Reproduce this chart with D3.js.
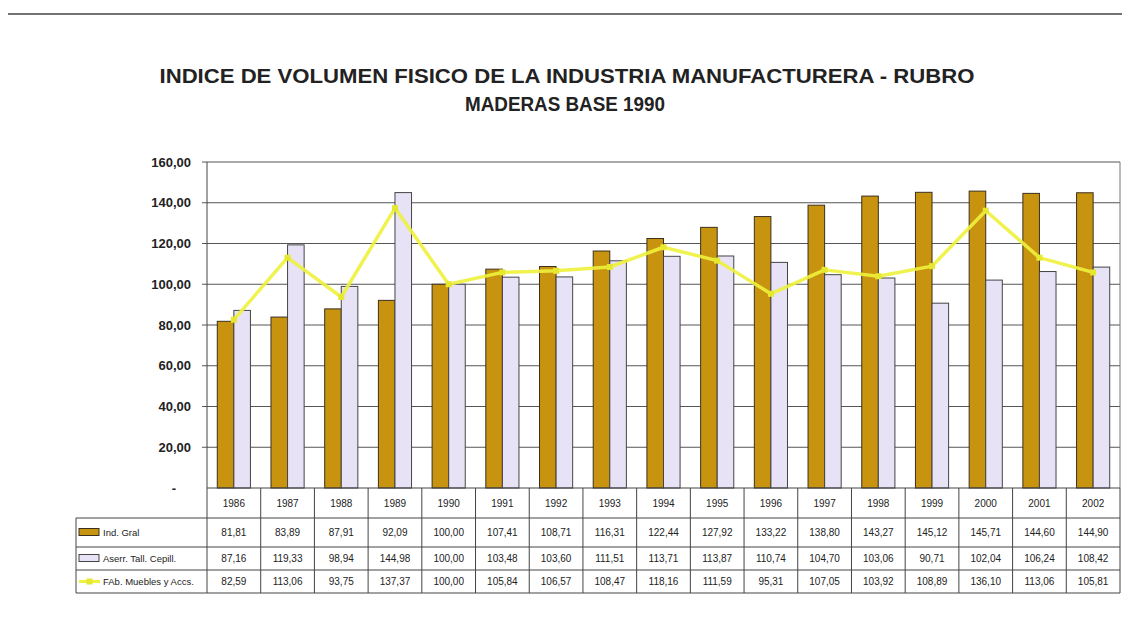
<!DOCTYPE html>
<meta charset="utf-8">
<script src="https://d3js.org/d3.v7.min.js"></script>
<style>
  body { margin: 0; background: #fff; }
  svg { display: block; font-family: "Liberation Sans", Arial, sans-serif; }
  .title { font-weight: bold; font-size: 20px; fill: #222; text-anchor: middle; }
  .ytick { font-weight: bold; font-size: 13px; fill: #222; text-anchor: end; }
  .cell { font-size: 10px; fill: #222; text-anchor: middle; }
  .legendLabel { font-size: 9.5px; fill: #222; }
  .grid line { stroke: #555; stroke-width: 1; }
  .tbl line { stroke: #444; stroke-width: 1; }
</style>
<body></body>
<script>

var years = ["1986", "1987", "1988", "1989", "1990", "1991", "1992", "1993", "1994",
             "1995", "1996", "1997", "1998", "1999", "2000", "2001", "2002"];
var indGral = [81.81, 83.89, 87.91, 92.09, 100.00, 107.41, 108.71, 116.31, 122.44,
               127.92, 133.22, 138.80, 143.27, 145.12, 145.71, 144.60, 144.90];
var aserr = [87.16, 119.33, 98.94, 144.98, 100.00, 103.48, 103.60, 111.51, 113.71,
             113.87, 110.74, 104.70, 103.06, 90.71, 102.04, 106.24, 108.42];
var muebles = [82.59, 113.06, 93.75, 137.37, 100.00, 105.84, 106.57, 108.47, 118.16,
               111.59, 95.31, 107.05, 103.92, 108.89, 136.10, 113.06, 105.81];
var seriesNames = ["Ind. Gral", "Aserr. Tall. Cepill.", "FAb. Muebles y Accs."];
var yTicks = [0, 20, 40, 60, 80, 100, 120, 140, 160];

var W = 1125, H = 632;
var plot = {left: 207, right: 1120, top: 162, bottom: 488};
var rowY = [488, 518, 547, 570, 593];   // table row borders
var legendLeft = 76;
var colors = {gold: "#c8930f", lav: "#e7e2f6", line: "#eef23c"};

var svg = d3.select("body").append("svg")
    .attr("width", W)
    .attr("height", H);

// scan border on top
svg.append("line")
    .attr("x1", 8).attr("x2", 1122)
    .attr("y1", 14).attr("y2", 14)
    .attr("stroke", "#444").attr("stroke-width", 1.5);

// title
svg.append("text").attr("class", "title")
    .attr("x", 567).attr("y", 83)
    .attr("textLength", 815).attr("lengthAdjust", "spacingAndGlyphs")
    .text("INDICE DE VOLUMEN FISICO  DE LA INDUSTRIA MANUFACTURERA - RUBRO");
svg.append("text").attr("class", "title")
    .attr("x", 565).attr("y", 111)
    .attr("textLength", 200).attr("lengthAdjust", "spacingAndGlyphs")
    .text("MADERAS BASE 1990");

var x = d3.scaleBand()
    .domain(years)
    .range([plot.left, plot.right]);
var xs = d3.scaleBand()
    .domain([0, 1])
    .range([0, x.bandwidth()])
    .paddingOuter(0.62);
var y = d3.scaleLinear()
    .domain([0, 160])
    .range([plot.bottom, plot.top]);

function fmt(v) { return v.toFixed(2).replace(".", ","); }

// gridlines
svg.append("g").attr("class", "grid")
  .selectAll("line")
  .data(yTicks.filter(function(d) { return d > 0; }))
  .enter().append("line")
    .attr("x1", plot.left - 5).attr("x2", plot.right)
    .attr("y1", function(d) { return y(d); })
    .attr("y2", function(d) { return y(d); });
svg.append("line")
    .attr("x1", plot.left).attr("x2", plot.left)
    .attr("y1", plot.top).attr("y2", plot.bottom)
    .attr("stroke", "#444");
svg.append("line")
    .attr("x1", plot.right).attr("x2", plot.right)
    .attr("y1", plot.top).attr("y2", plot.bottom)
    .attr("stroke", "#777");

// y labels
svg.append("g")
  .selectAll("text")
  .data(yTicks)
  .enter().append("text")
    .attr("class", "ytick")
    .attr("x", function(d) { return d === 0 ? 176 : 191; })
    .attr("y", function(d) { return y(d); })
    .attr("dy", "0.35em")
    .text(function(d) { return d === 0 ? "-" : fmt(d); });

// bars
var bars = svg.append("g");
bars.selectAll("rect.gold")
  .data(indGral)
  .enter().append("rect")
    .attr("class", "gold")
    .attr("x", function(d, i) { return x(years[i]) + xs(0); })
    .attr("y", function(d) { return y(d); })
    .attr("width", xs.bandwidth())
    .attr("height", function(d) { return plot.bottom - y(d); })
    .attr("fill", colors.gold)
    .attr("stroke", "#3a3020")
    .attr("stroke-width", 1);
bars.selectAll("rect.lav")
  .data(aserr)
  .enter().append("rect")
    .attr("class", "lav")
    .attr("x", function(d, i) { return x(years[i]) + xs(1); })
    .attr("y", function(d) { return y(d); })
    .attr("width", xs.bandwidth())
    .attr("height", function(d) { return plot.bottom - y(d); })
    .attr("fill", colors.lav)
    .attr("stroke", "#444")
    .attr("stroke-width", 1);

// line series
var cx = function(d, i) { return x(years[i]) + x.bandwidth() / 2; };
svg.append("path")
    .datum(muebles)
    .attr("fill", "none")
    .attr("stroke", colors.line)
    .attr("stroke-opacity", 0.9)
    .attr("stroke-width", 3.5)
    .attr("stroke-linejoin", "round")
    .attr("d", d3.line().x(cx).y(function(d) { return y(d); }));
svg.append("g")
  .selectAll("rect")
  .data(muebles)
  .enter().append("rect")
    .attr("x", function(d, i) { return cx(d, i) - 3; })
    .attr("y", function(d) { return y(d) - 3; })
    .attr("width", 6).attr("height", 6)
    .attr("fill", "#e6e830");

// data table
var tbl = svg.append("g").attr("class", "tbl");
rowY.forEach(function(yy, i) {
  tbl.append("line")
    .attr("x1", i < 1 ? plot.left : legendLeft).attr("x2", plot.right)
    .attr("y1", yy).attr("y2", yy);
});
tbl.selectAll("line.col")
  .data(years.concat(["end"]))
  .enter().append("line")
    .attr("class", "col")
    .attr("x1", function(d) { return d === "end" ? plot.right : x(d); })
    .attr("x2", function(d) { return d === "end" ? plot.right : x(d); })
    .attr("y1", rowY[0]).attr("y2", rowY[4]);
tbl.append("line")
    .attr("x1", legendLeft).attr("x2", legendLeft)
    .attr("y1", rowY[1]).attr("y2", rowY[4]);

var rows = [years, indGral.map(fmt), aserr.map(fmt), muebles.map(fmt)];
rows.forEach(function(vals, r) {
  svg.append("g")
    .selectAll("text")
    .data(vals)
    .enter().append("text")
      .attr("class", "cell")
      .attr("x", function(d, i) { return x(years[i]) + x.bandwidth() / 2; })
      .attr("y", (rowY[r] + rowY[r + 1]) / 2)
      .attr("dy", "0.35em")
      .text(function(d) { return d; });
});

// legend keys in table
var lg = svg.append("g");
var keyX = legendLeft + 3;
seriesNames.forEach(function(name, i) {
  var cy = (rowY[i + 1] + rowY[i + 2]) / 2;
  if (i === 0) {
    lg.append("rect").attr("x", keyX).attr("y", cy - 4).attr("width", 20).attr("height", 7)
      .attr("fill", colors.gold).attr("stroke", "#3a3020");
  } else if (i === 1) {
    lg.append("rect").attr("x", keyX).attr("y", cy - 4).attr("width", 20).attr("height", 7)
      .attr("fill", colors.lav).attr("stroke", "#444");
  } else {
    lg.append("line").attr("x1", keyX).attr("x2", keyX + 21).attr("y1", cy).attr("y2", cy)
      .attr("stroke", colors.line).attr("stroke-width", 3);
    lg.append("rect").attr("x", keyX + 7.5).attr("y", cy - 3).attr("width", 6).attr("height", 6)
      .attr("fill", "#e6e830");
  }
  lg.append("text")
    .attr("class", "legendLabel")
    .attr("x", keyX + 24)
    .attr("y", cy)
    .attr("dy", "0.35em")
    .text(name);
});

</script>
